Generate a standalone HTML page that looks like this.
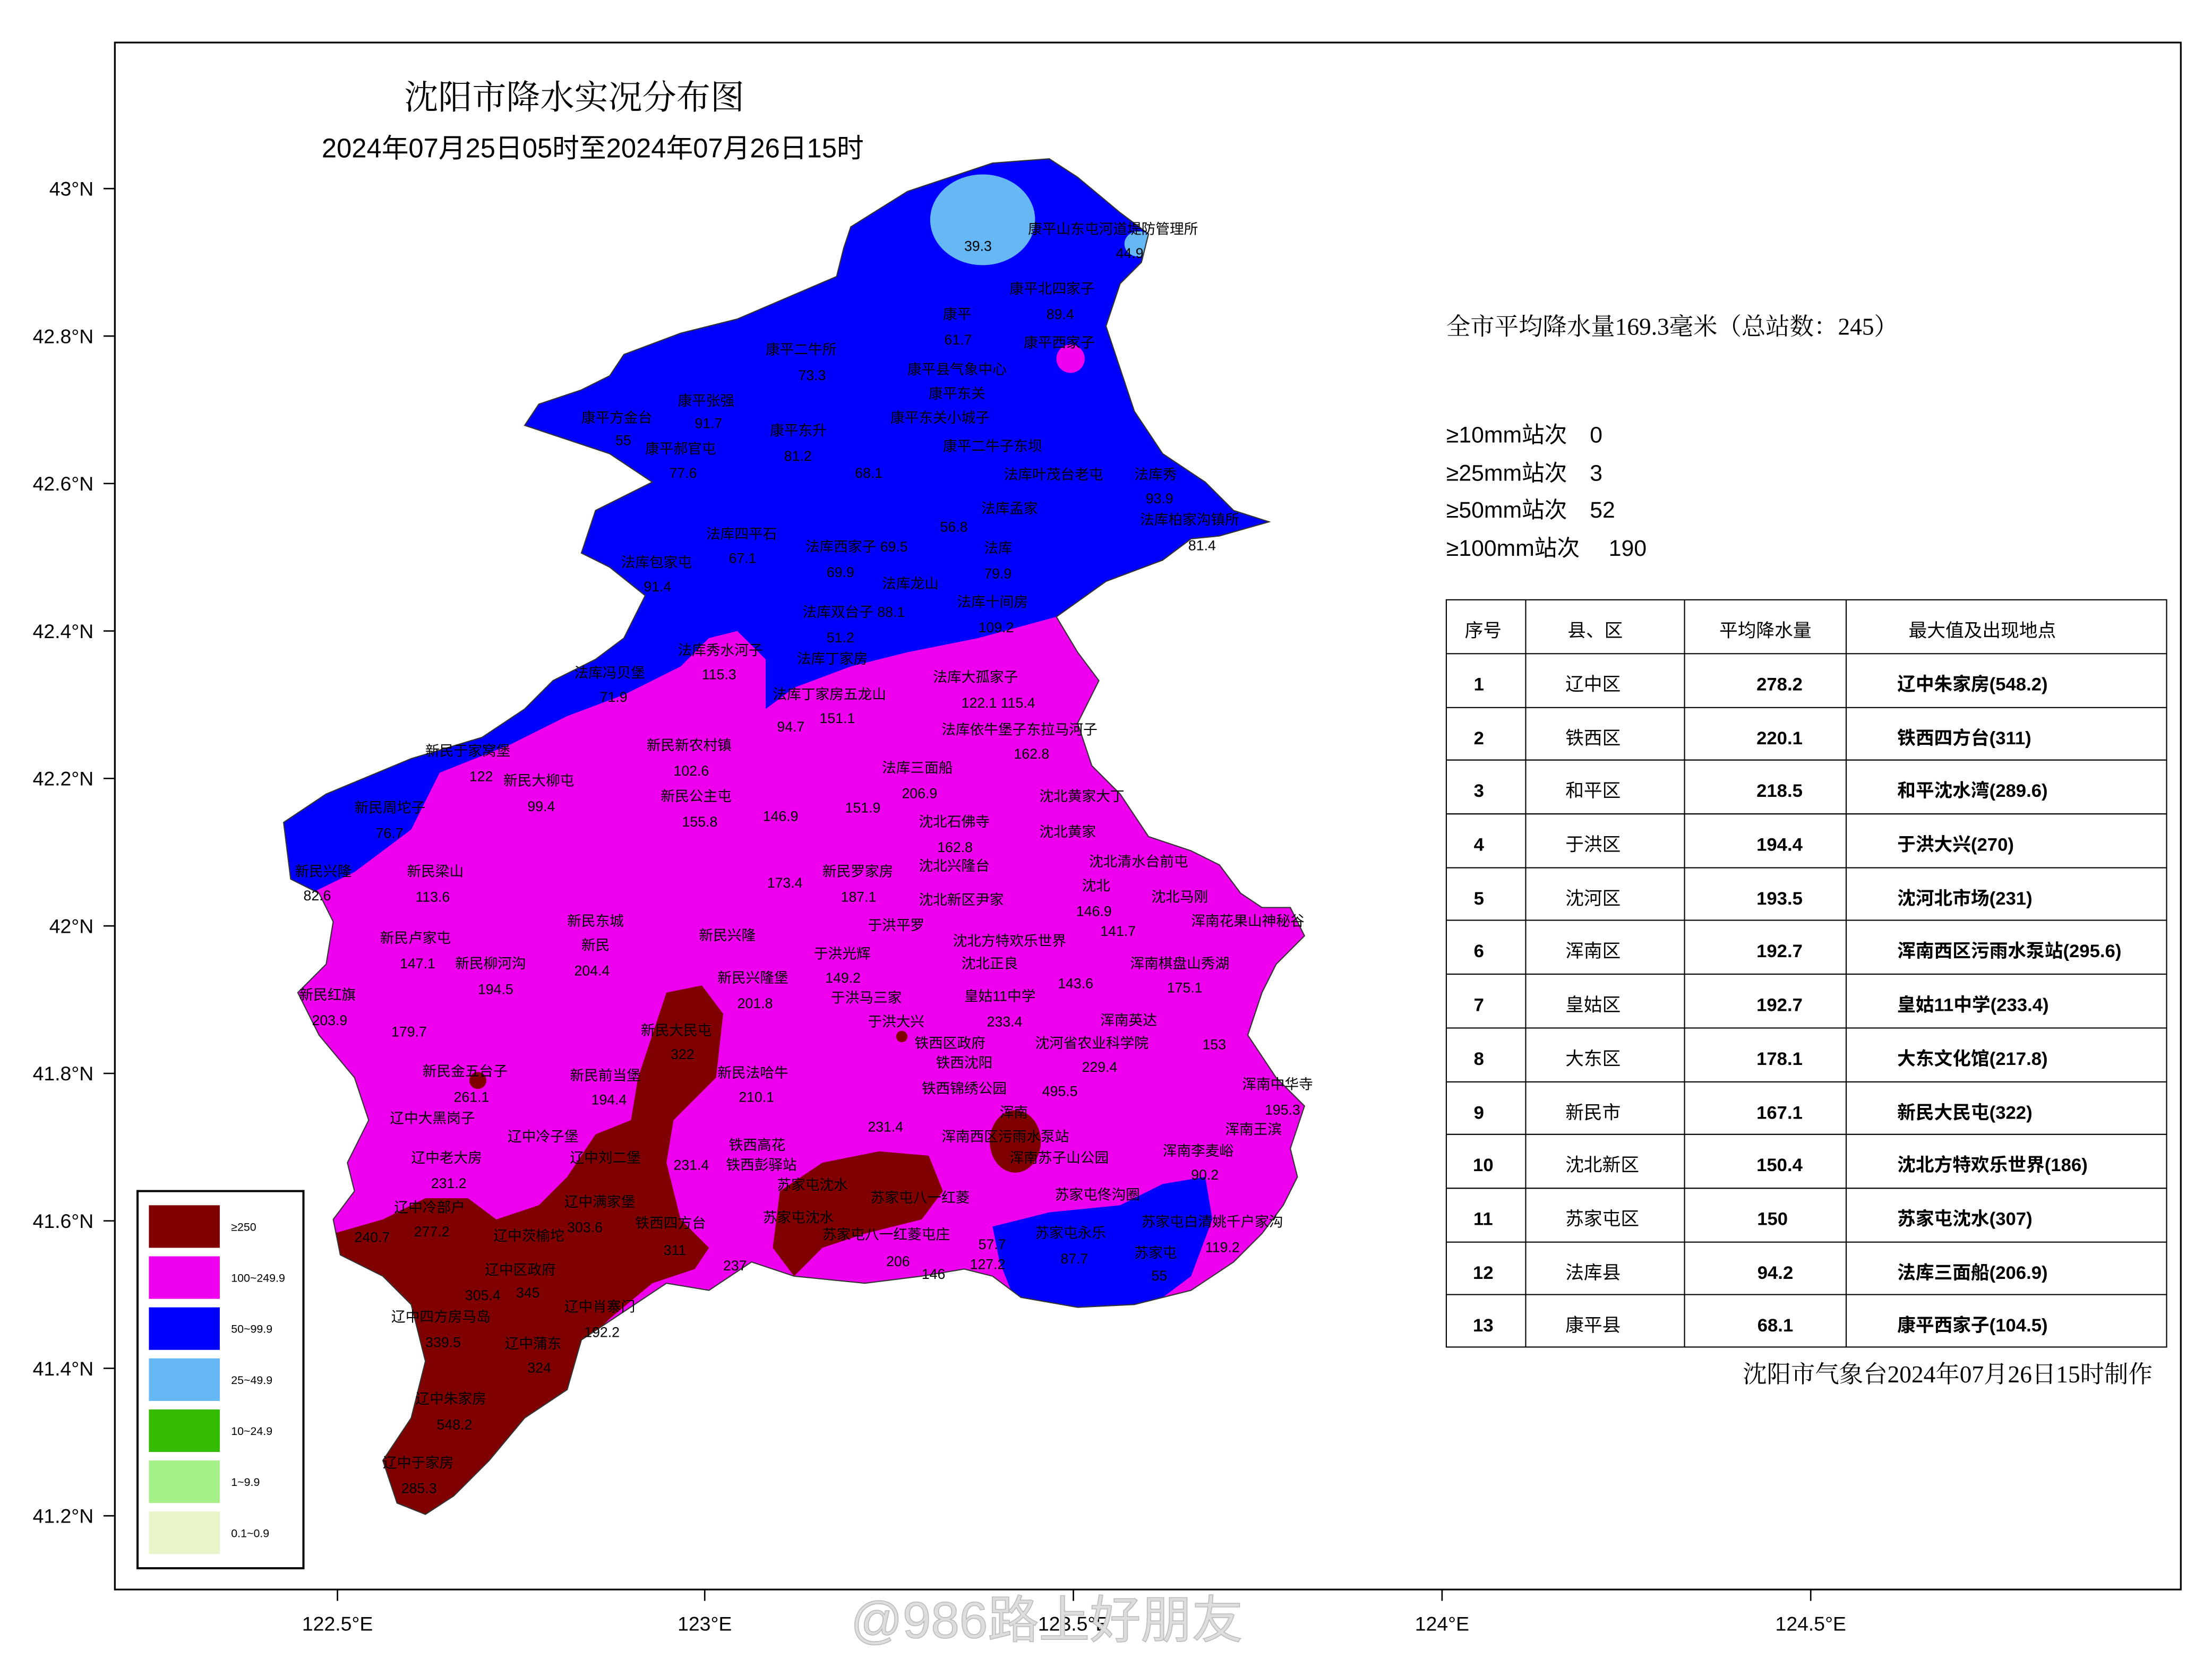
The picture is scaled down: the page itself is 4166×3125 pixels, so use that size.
<!DOCTYPE html>
<html><head><meta charset="utf-8"><style>
html,body{margin:0;padding:0;background:#fff;}
svg{display:block;}
text{font-family:"Liberation Sans","Noto Sans CJK SC",sans-serif;}
.s{font-family:"Liberation Serif","Noto Serif CJK SC",serif;font-size:10px;fill:#000;}
</style></head><body>
<svg width="4166" height="3125" viewBox="0 0 1560 1170" preserveAspectRatio="none" xmlns="http://www.w3.org/2000/svg">
<rect width="1560" height="1170" fill="#fff"/>
<defs>
<clipPath id="c"><polygon id="ol" points="600,160 640,135 700,115 740,112 760,125 790,150 810,165 805,185 790,200 780,230 790,260 800,290 820,320 850,340 870,360 895,368 860,378 840,380 820,395 780,410 745,435 760,460 775,480 760,510 770,540 790,560 810,590 840,600 860,610 875,630 890,640 910,640 920,660 900,680 890,700 880,730 900,760 920,780 910,810 915,830 905,850 890,870 870,890 840,910 800,920 760,922 720,915 700,900 680,895 650,900 610,905 560,900 530,890 500,910 470,905 440,925 410,945 400,980 370,1000 345,1030 320,1055 300,1068 280,1060 270,1030 290,1000 300,960 290,920 270,900 240,885 235,860 250,840 245,820 260,790 250,760 225,730 210,700 230,680 235,650 225,630 205,620 200,580 230,560 290,535 340,520 370,500 390,480 420,465 440,450 455,420 430,400 410,390 420,360 460,340 430,320 400,310 370,300 380,285 410,275 430,265 440,250 480,235 520,225 555,210 590,195 595,175"/></clipPath>
</defs>
<rect x="81" y="30" width="1457" height="1091" fill="none" stroke="#000" stroke-width="1.2"/>
<g clip-path="url(#c)">
<rect x="150" y="80" width="800" height="1000" fill="#ee00ee"/>
<polygon fill="#0000ff" points="150,640 215,632 250,615 290,585 310,545 360,525 400,505 440,490 480,470 500,450 520,445 540,465 540,500 560,485 600,470 640,460 690,450 745,435 950,380 950,50 150,50"/>
<ellipse cx="693" cy="155" rx="37" ry="32" fill="#66b8f5"/>
<ellipse cx="803" cy="172" rx="10" ry="9" fill="#66b8f5"/>
<circle cx="755" cy="253" r="10" fill="#ee00ee"/>
<polygon fill="#800000" points="470,700 495,695 510,715 505,760 475,790 470,820 480,860 500,880 490,895 460,905 430,930 410,950 400,980 370,1000 345,1030 320,1055 300,1068 280,1060 270,1030 290,1000 300,960 290,920 270,900 240,885 235,870 270,860 300,845 330,845 350,860 380,850 400,830 420,800 445,790 450,760"/>
<polygon fill="#800000" points="550,840 580,820 620,812 655,815 665,840 650,860 610,870 580,880 560,900 545,880"/>
<ellipse cx="716" cy="805" rx="18" ry="22" fill="#800000"/>
<circle cx="337" cy="762" r="6" fill="#800000"/>
<circle cx="636" cy="731" r="4" fill="#800000"/>
<polygon fill="#0000ff" points="700,865 740,855 790,850 820,835 850,830 855,860 840,900 820,915 790,925 740,925 715,915 705,890"/>
</g>
<use href="#ol" fill="none" stroke="#333" stroke-width="0.8"/>
<g stroke="#000" stroke-width="1">
<line x1="73" y1="133" x2="81" y2="133"/><line x1="73" y1="237" x2="81" y2="237"/><line x1="73" y1="341" x2="81" y2="341"/><line x1="73" y1="445" x2="81" y2="445"/><line x1="73" y1="549" x2="81" y2="549"/><line x1="73" y1="653" x2="81" y2="653"/><line x1="73" y1="757" x2="81" y2="757"/><line x1="73" y1="861" x2="81" y2="861"/><line x1="73" y1="965" x2="81" y2="965"/><line x1="73" y1="1069" x2="81" y2="1069"/>
<line x1="238" y1="1121" x2="238" y2="1129"/><line x1="497" y1="1121" x2="497" y2="1129"/><line x1="757" y1="1121" x2="757" y2="1129"/><line x1="1017" y1="1121" x2="1017" y2="1129"/><line x1="1277" y1="1121" x2="1277" y2="1129"/>
</g>
<g font-size="14" text-anchor="end">
<text x="66" y="138">43°N</text><text x="66" y="242">42.8°N</text><text x="66" y="346">42.6°N</text><text x="66" y="450">42.4°N</text><text x="66" y="554">42.2°N</text><text x="66" y="658">42°N</text><text x="66" y="762">41.8°N</text><text x="66" y="866">41.6°N</text><text x="66" y="970">41.4°N</text><text x="66" y="1074">41.2°N</text>
</g>
<g font-size="14" text-anchor="middle">
<text x="238" y="1150">122.5°E</text><text x="497" y="1150">123°E</text><text x="757" y="1150">123.5°E</text><text x="1017" y="1150">124°E</text><text x="1277" y="1150">124.5°E</text>
</g>
<text x="405" y="77" font-size="24" text-anchor="middle" style="font-family:'Liberation Serif','Noto Serif CJK SC',serif">沈阳市降水实况分布图</text>
<text x="418" y="111" font-size="19" text-anchor="middle">2024年07月25日05时至2024年07月26日15时</text>
<text x="1020" y="236" font-size="17" style="font-family:'Liberation Serif','Noto Serif CJK SC',serif">全市平均降水量169.3毫米（总站数：245）</text>
<g font-size="16">
<text x="1020" y="312">≥10mm站次　0</text><text x="1020" y="339">≥25mm站次　3</text><text x="1020" y="365">≥50mm站次　52</text><text x="1020" y="392">≥100mm站次　 190</text>
</g>
<g stroke="#000" stroke-width="0.8" fill="none">
<rect x="1020" y="423" width="508" height="527"/>
<line x1="1076" y1="423" x2="1076" y2="950"/><line x1="1188" y1="423" x2="1188" y2="950"/><line x1="1302" y1="423" x2="1302" y2="950"/>
<line x1="1020" y1="461" x2="1528" y2="461"/><line x1="1020" y1="499" x2="1528" y2="499"/><line x1="1020" y1="536" x2="1528" y2="536"/><line x1="1020" y1="574" x2="1528" y2="574"/><line x1="1020" y1="612" x2="1528" y2="612"/><line x1="1020" y1="649" x2="1528" y2="649"/><line x1="1020" y1="687" x2="1528" y2="687"/><line x1="1020" y1="725" x2="1528" y2="725"/><line x1="1020" y1="763" x2="1528" y2="763"/><line x1="1020" y1="800" x2="1528" y2="800"/><line x1="1020" y1="838" x2="1528" y2="838"/><line x1="1020" y1="876" x2="1528" y2="876"/><line x1="1020" y1="913" x2="1528" y2="913"/>
</g>
<g font-size="13" text-anchor="middle">
<text x="1046" y="449">序号</text><text x="1125" y="449">县、区</text><text x="1245" y="449">平均降水量</text><text x="1398" y="449">最大值及出现地点</text>
</g>
<g font-size="13" font-weight="bold">
<g text-anchor="middle">
<text x="1043" y="487">1</text><text x="1043" y="525">2</text><text x="1043" y="562">3</text><text x="1043" y="600">4</text><text x="1043" y="638">5</text><text x="1043" y="675">6</text><text x="1043" y="713">7</text><text x="1043" y="751">8</text><text x="1043" y="789">9</text><text x="1046" y="826">10</text><text x="1046" y="864">11</text><text x="1046" y="902">12</text><text x="1046" y="939">13</text>
<text x="1255" y="487">278.2</text><text x="1255" y="525">220.1</text><text x="1255" y="562">218.5</text><text x="1255" y="600">194.4</text><text x="1255" y="638">193.5</text><text x="1255" y="675">192.7</text><text x="1255" y="713">192.7</text><text x="1255" y="751">178.1</text><text x="1255" y="789">167.1</text><text x="1255" y="826">150.4</text><text x="1250" y="864">150</text><text x="1252" y="902">94.2</text><text x="1252" y="939">68.1</text>
</g>
<g font-weight="normal"><text x="1104" y="487">辽中区</text><text x="1104" y="525">铁西区</text><text x="1104" y="562">和平区</text><text x="1104" y="600">于洪区</text><text x="1104" y="638">沈河区</text><text x="1104" y="675">浑南区</text><text x="1104" y="713">皇姑区</text><text x="1104" y="751">大东区</text><text x="1104" y="789">新民市</text><text x="1104" y="826">沈北新区</text><text x="1104" y="864">苏家屯区</text><text x="1104" y="902">法库县</text><text x="1104" y="939">康平县</text></g>
<text x="1338" y="487">辽中朱家房(548.2)</text><text x="1338" y="525">铁西四方台(311)</text><text x="1338" y="562">和平沈水湾(289.6)</text><text x="1338" y="600">于洪大兴(270)</text><text x="1338" y="638">沈河北市场(231)</text><text x="1338" y="675">浑南西区污雨水泵站(295.6)</text><text x="1338" y="713">皇姑11中学(233.4)</text><text x="1338" y="751">大东文化馆(217.8)</text><text x="1338" y="789">新民大民屯(322)</text><text x="1338" y="826">沈北方特欢乐世界(186)</text><text x="1338" y="864">苏家屯沈水(307)</text><text x="1338" y="902">法库三面船(206.9)</text><text x="1338" y="939">康平西家子(104.5)</text>
</g>
<text x="1518" y="975" font-size="17" text-anchor="end" style="font-family:'Liberation Serif','Noto Serif CJK SC',serif">沈阳市气象台2024年07月26日15时制作</text>
<rect x="97" y="840" width="117" height="266" fill="#fff" stroke="#000" stroke-width="1.5"/>
<rect x="105" y="850" width="50" height="30" fill="#800000"/><rect x="105" y="886" width="50" height="30" fill="#ee00ee"/><rect x="105" y="922" width="50" height="30" fill="#0000ff"/><rect x="105" y="958" width="50" height="30" fill="#66b8f5"/><rect x="105" y="994" width="50" height="30" fill="#33bb00"/><rect x="105" y="1030" width="50" height="30" fill="#a6f08a"/><rect x="105" y="1066" width="50" height="30" fill="#e8f5c8"/>
<g font-size="8"><text x="163" y="868">≥250</text><text x="163" y="904">100~249.9</text><text x="163" y="940">50~99.9</text><text x="163" y="976">25~49.9</text><text x="163" y="1012">10~24.9</text><text x="163" y="1048">1~9.9</text><text x="163" y="1084">0.1~0.9</text></g>
<g class="s">
<text x="680" y="177">39.3</text><text x="725" y="165">康平山东屯河道堤防管理所</text><text x="787" y="182">44.9</text>
<text x="712" y="207">康平北四家子</text><text x="738" y="225">89.4</text><text x="665" y="225">康平</text><text x="666" y="243">61.7</text><text x="722" y="245">康平西家子</text>
<text x="540" y="250">康平二牛所</text><text x="563" y="268">73.3</text><text x="640" y="264">康平县气象中心</text><text x="655" y="281">康平东关</text>
<text x="478" y="286">康平张强</text><text x="490" y="302">91.7</text><text x="410" y="298">康平方金台</text><text x="434" y="314">55</text><text x="455" y="320">康平郝官屯</text><text x="472" y="337">77.6</text>
<text x="543" y="307">康平东升</text><text x="553" y="325">81.2</text><text x="628" y="298">康平东关小城子</text><text x="603" y="337">68.1</text><text x="665" y="318">康平二牛子东坝</text>
<text x="708" y="338">法库叶茂台老屯</text><text x="800" y="338">法库秀</text><text x="808" y="355">93.9</text><text x="692" y="362">法库孟家</text><text x="663" y="375">56.8</text>
<text x="804" y="370">法库柏家沟镇所</text><text x="838" y="388">81.4</text><text x="498" y="380">法库四平石</text><text x="514" y="397">67.1</text><text x="568" y="389">法库西家子 69.5</text><text x="583" y="407">69.9</text><text x="694" y="390">法库</text><text x="694" y="408">79.9</text>
<text x="438" y="400">法库包家屯</text><text x="454" y="417">91.4</text><text x="622" y="415">法库龙山</text><text x="566" y="435">法库双台子 88.1</text><text x="583" y="453">51.2</text><text x="675" y="428">法库十间房</text><text x="690" y="446">109.2</text>
<text x="478" y="462">法库秀水河子</text><text x="495" y="479">115.3</text><text x="562" y="468">法库丁家房</text><text x="405" y="478">法库冯贝堡</text><text x="423" y="495">71.9</text>
<text x="658" y="481">法库大孤家子</text><text x="678" y="499">122.1 115.4</text><text x="545" y="493">法库丁家房五龙山</text><text x="548" y="516">94.7</text><text x="578" y="510">151.1</text>
<text x="664" y="518">法库依牛堡子东拉马河子</text><text x="715" y="535">162.8</text><text x="300" y="533">新民于家窝堡</text><text x="331" y="551">122</text><text x="355" y="554">新民大柳屯</text><text x="372" y="572">99.4</text>
<text x="456" y="529">新民新农村镇</text><text x="475" y="547">102.6</text><text x="622" y="545">法库三面船</text><text x="636" y="563">206.9</text><text x="466" y="565">新民公主屯</text><text x="481" y="583">155.8</text><text x="538" y="579">146.9</text><text x="596" y="573">151.9</text>
<text x="250" y="573">新民周坨子</text><text x="265" y="591">76.7</text><text x="733" y="565">沈北黄家大丁</text><text x="648" y="583">沈北石佛寺</text><text x="661" y="601">162.8</text><text x="733" y="590">沈北黄家</text>
<text x="208" y="618">新民兴隆</text><text x="214" y="635">82.6</text><text x="287" y="618">新民梁山</text><text x="293" y="636">113.6</text><text x="580" y="618">新民罗家房</text><text x="648" y="614">沈北兴隆台</text><text x="541" y="626">173.4</text><text x="593" y="636">187.1</text>
<text x="768" y="611">沈北清水台前屯</text><text x="648" y="638">沈北新区尹家</text><text x="763" y="628">沈北</text><text x="812" y="636">沈北马刚</text><text x="759" y="646">146.9</text><text x="612" y="656">于洪平罗</text><text x="840" y="653">浑南花果山神秘谷</text>
<text x="400" y="653">新民东城</text><text x="410" y="670">新民</text><text x="405" y="688">204.4</text><text x="493" y="663">新民兴隆</text><text x="268" y="665">新民卢家屯</text><text x="282" y="683">147.1</text><text x="321" y="683">新民柳河沟</text><text x="337" y="701">194.5</text>
<text x="574" y="676">于洪光辉</text><text x="672" y="667">沈北方特欢乐世界</text><text x="776" y="660">141.7</text><text x="678" y="683">沈北正良</text><text x="797" y="683">浑南棋盘山秀湖</text><text x="746" y="697">143.6</text><text x="823" y="700">175.1</text>
<text x="211" y="705">新民红旗</text><text x="220" y="723">203.9</text><text x="506" y="693">新民兴隆堡</text><text x="520" y="711">201.8</text><text x="582" y="693">149.2</text><text x="586" y="707">于洪马三家</text><text x="680" y="706">皇姑11中学</text><text x="612" y="724">于洪大兴</text><text x="696" y="724">233.4</text>
<text x="276" y="731">179.7</text><text x="452" y="730">新民大民屯</text><text x="473" y="747">322</text><text x="776" y="723">浑南英达</text><text x="645" y="739">铁西区政府</text><text x="730" y="739">沈河省农业科学院</text><text x="848" y="740">153</text><text x="660" y="753">铁西沈阳</text><text x="763" y="756">229.4</text>
<text x="298" y="759">新民金五台子</text><text x="320" y="777">261.1</text><text x="402" y="762">新民前当堡</text><text x="417" y="779">194.4</text><text x="506" y="760">新民法哈牛</text><text x="521" y="777">210.1</text><text x="876" y="768">浑南中华寺</text><text x="892" y="786">195.3</text>
<text x="650" y="771">铁西锦绣公园</text><text x="735" y="773">495.5</text><text x="275" y="792">辽中大黑岗子</text><text x="358" y="805">辽中冷子堡</text><text x="612" y="798">231.4</text><text x="705" y="788">浑南</text><text x="864" y="800">浑南王滨</text>
<text x="514" y="811">铁西高花</text><text x="512" y="825">铁西彭驿站</text><text x="475" y="825">231.4</text><text x="664" y="805">浑南西区污雨水泵站</text><text x="290" y="820">辽中老大房</text><text x="304" y="838">231.2</text><text x="402" y="820">辽中刘二堡</text><text x="712" y="820">浑南苏子山公园</text><text x="820" y="815">浑南李麦峪</text><text x="840" y="832">90.2</text>
<text x="548" y="839">苏家屯沈水</text><text x="614" y="848">苏家屯八一红菱</text><text x="744" y="846">苏家屯佟沟圈</text><text x="278" y="855">辽中冷部户</text><text x="292" y="872">277.2</text><text x="250" y="876">240.7</text><text x="398" y="851">辽中满家堡</text><text x="400" y="869">303.6</text>
<text x="448" y="866">铁西四方台</text><text x="468" y="885">311</text><text x="538" y="862">苏家屯沈水</text><text x="348" y="875">辽中茨榆坨</text><text x="580" y="874">苏家屯八一红菱屯庄</text><text x="690" y="881">57.7</text><text x="730" y="873">苏家屯永乐</text><text x="748" y="891">87.7</text><text x="805" y="865">苏家屯白清姚千户家沟</text><text x="850" y="883">119.2</text>
<text x="510" y="896">237</text><text x="625" y="893">206</text><text x="650" y="902">146</text><text x="684" y="895">127.2</text><text x="800" y="887">苏家屯</text><text x="812" y="903">55</text><text x="342" y="899">辽中区政府</text><text x="328" y="917">305.4</text><text x="364" y="915">345</text><text x="398" y="925">辽中肖寨门</text><text x="412" y="943">192.2</text>
<text x="276" y="932">辽中四方房马岛</text><text x="300" y="950">339.5</text><text x="356" y="951">辽中蒲东</text><text x="372" y="968">324</text><text x="293" y="990">辽中朱家房</text><text x="308" y="1008">548.2</text><text x="270" y="1035">辽中于家房</text><text x="283" y="1053">285.3</text>
</g>
<text x="600" y="1155" font-size="36" fill="#ddd" stroke="#bbb" stroke-width="0.6">@986路上好朋友</text>
</svg>
</body></html>
